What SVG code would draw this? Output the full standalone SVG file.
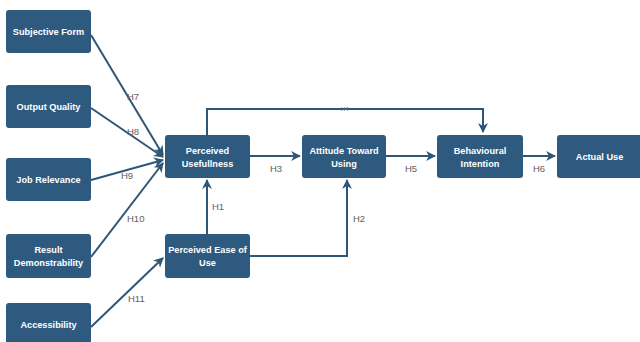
<svg xmlns="http://www.w3.org/2000/svg" width="640" height="342" viewBox="0 0 640 342">
<style>
.n rect{fill:#2e5a7f;}
.n text{fill:#fff;font-family:"Liberation Sans",Arial,sans-serif;font-weight:bold;font-size:9.2px;text-anchor:middle;}
.c path{fill:none;stroke:#2f5677;stroke-width:2;}
.l{fill:#606060;font-family:"Liberation Sans",Arial,sans-serif;font-size:9.5px;}
</style>
<defs>
<marker id="a" viewBox="0 0 10 10" refX="9" refY="5" markerWidth="5" markerHeight="5" orient="auto" markerUnits="strokeWidth">
<path d="M0,0 L10,5 L0,10 L3,5 z" fill="#2f5677"/>
</marker>
</defs>
<rect width="640" height="342" fill="#fff"/>
<g class="c">
<path d="M91,35 L163,155" marker-end="url(#a)"/>
<path d="M91,108 L163,157" marker-end="url(#a)"/>
<path d="M91,180 L163,160" marker-end="url(#a)"/>
<path d="M91,257 L163,163" marker-end="url(#a)"/>
<path d="M91,327 L163,258" marker-end="url(#a)"/>
<path d="M207,234 L207,180" marker-end="url(#a)"/>
<path d="M250,256 L347,256 L347,180" marker-end="url(#a)"/>
<path d="M250,156 L300,156" marker-end="url(#a)"/>
<path d="M207,135 L207,109 L483,109 L483,132" marker-end="url(#a)"/>
<path d="M386,156 L435,156" marker-end="url(#a)"/>
<path d="M523,156 L555,156" marker-end="url(#a)"/>
</g>
<g>
<text class="l" x="127" y="100">H7</text>
<text class="l" x="127" y="135">H8</text>
<text class="l" x="121" y="179">H9</text>
<text class="l" x="127" y="222">H10</text>
<text class="l" x="128" y="302">H11</text>
<text class="l" x="212" y="210">H1</text>
<text class="l" x="353" y="222">H2</text>
<text class="l" x="270" y="172">H3</text>
<text class="l" x="341" y="111" style="font-size:6px">H4</text>
<text class="l" x="405" y="172">H5</text>
<text class="l" x="533" y="172">H6</text>
</g>
<g id="subjective" class="n"><rect x="6" y="10" width="85" height="43" rx="3"/><text x="48.5" y="35">Subjective Form</text></g>
<g id="output" class="n"><rect x="6" y="85" width="85" height="43" rx="3"/><text x="48.5" y="110">Output Quality</text></g>
<g id="job" class="n"><rect x="6" y="158" width="85" height="43" rx="3"/><text x="48.5" y="183">Job Relevance</text></g>
<g id="result" class="n"><rect x="6" y="234" width="85" height="44" rx="3"/><text x="48.5" y="253">Result</text><text x="48.5" y="266">Demonstrability</text></g>
<g id="access" class="n"><rect x="6" y="303" width="85" height="43" rx="3"/><text x="48.5" y="328">Accessibility</text></g>
<g id="pu" class="n"><rect x="165" y="135" width="85" height="43" rx="3"/><text x="207.5" y="154">Perceived</text><text x="207.5" y="167">Usefullness</text></g>
<g id="peou" class="n"><rect x="165" y="234" width="85" height="44" rx="3"/><text x="207.5" y="253">Perceived Ease of</text><text x="207.5" y="266">Use</text></g>
<g id="atu" class="n"><rect x="302" y="135" width="84" height="43" rx="3"/><text x="344" y="154">Attitude Toward</text><text x="344" y="167">Using</text></g>
<g id="bi" class="n"><rect x="437" y="135" width="86" height="43" rx="3"/><text x="480" y="154">Behavioural</text><text x="480" y="167">Intention</text></g>
<g id="au" class="n"><rect x="557" y="135" width="85" height="43" rx="3"/><text x="599.5" y="160">Actual Use</text></g>
</svg>
